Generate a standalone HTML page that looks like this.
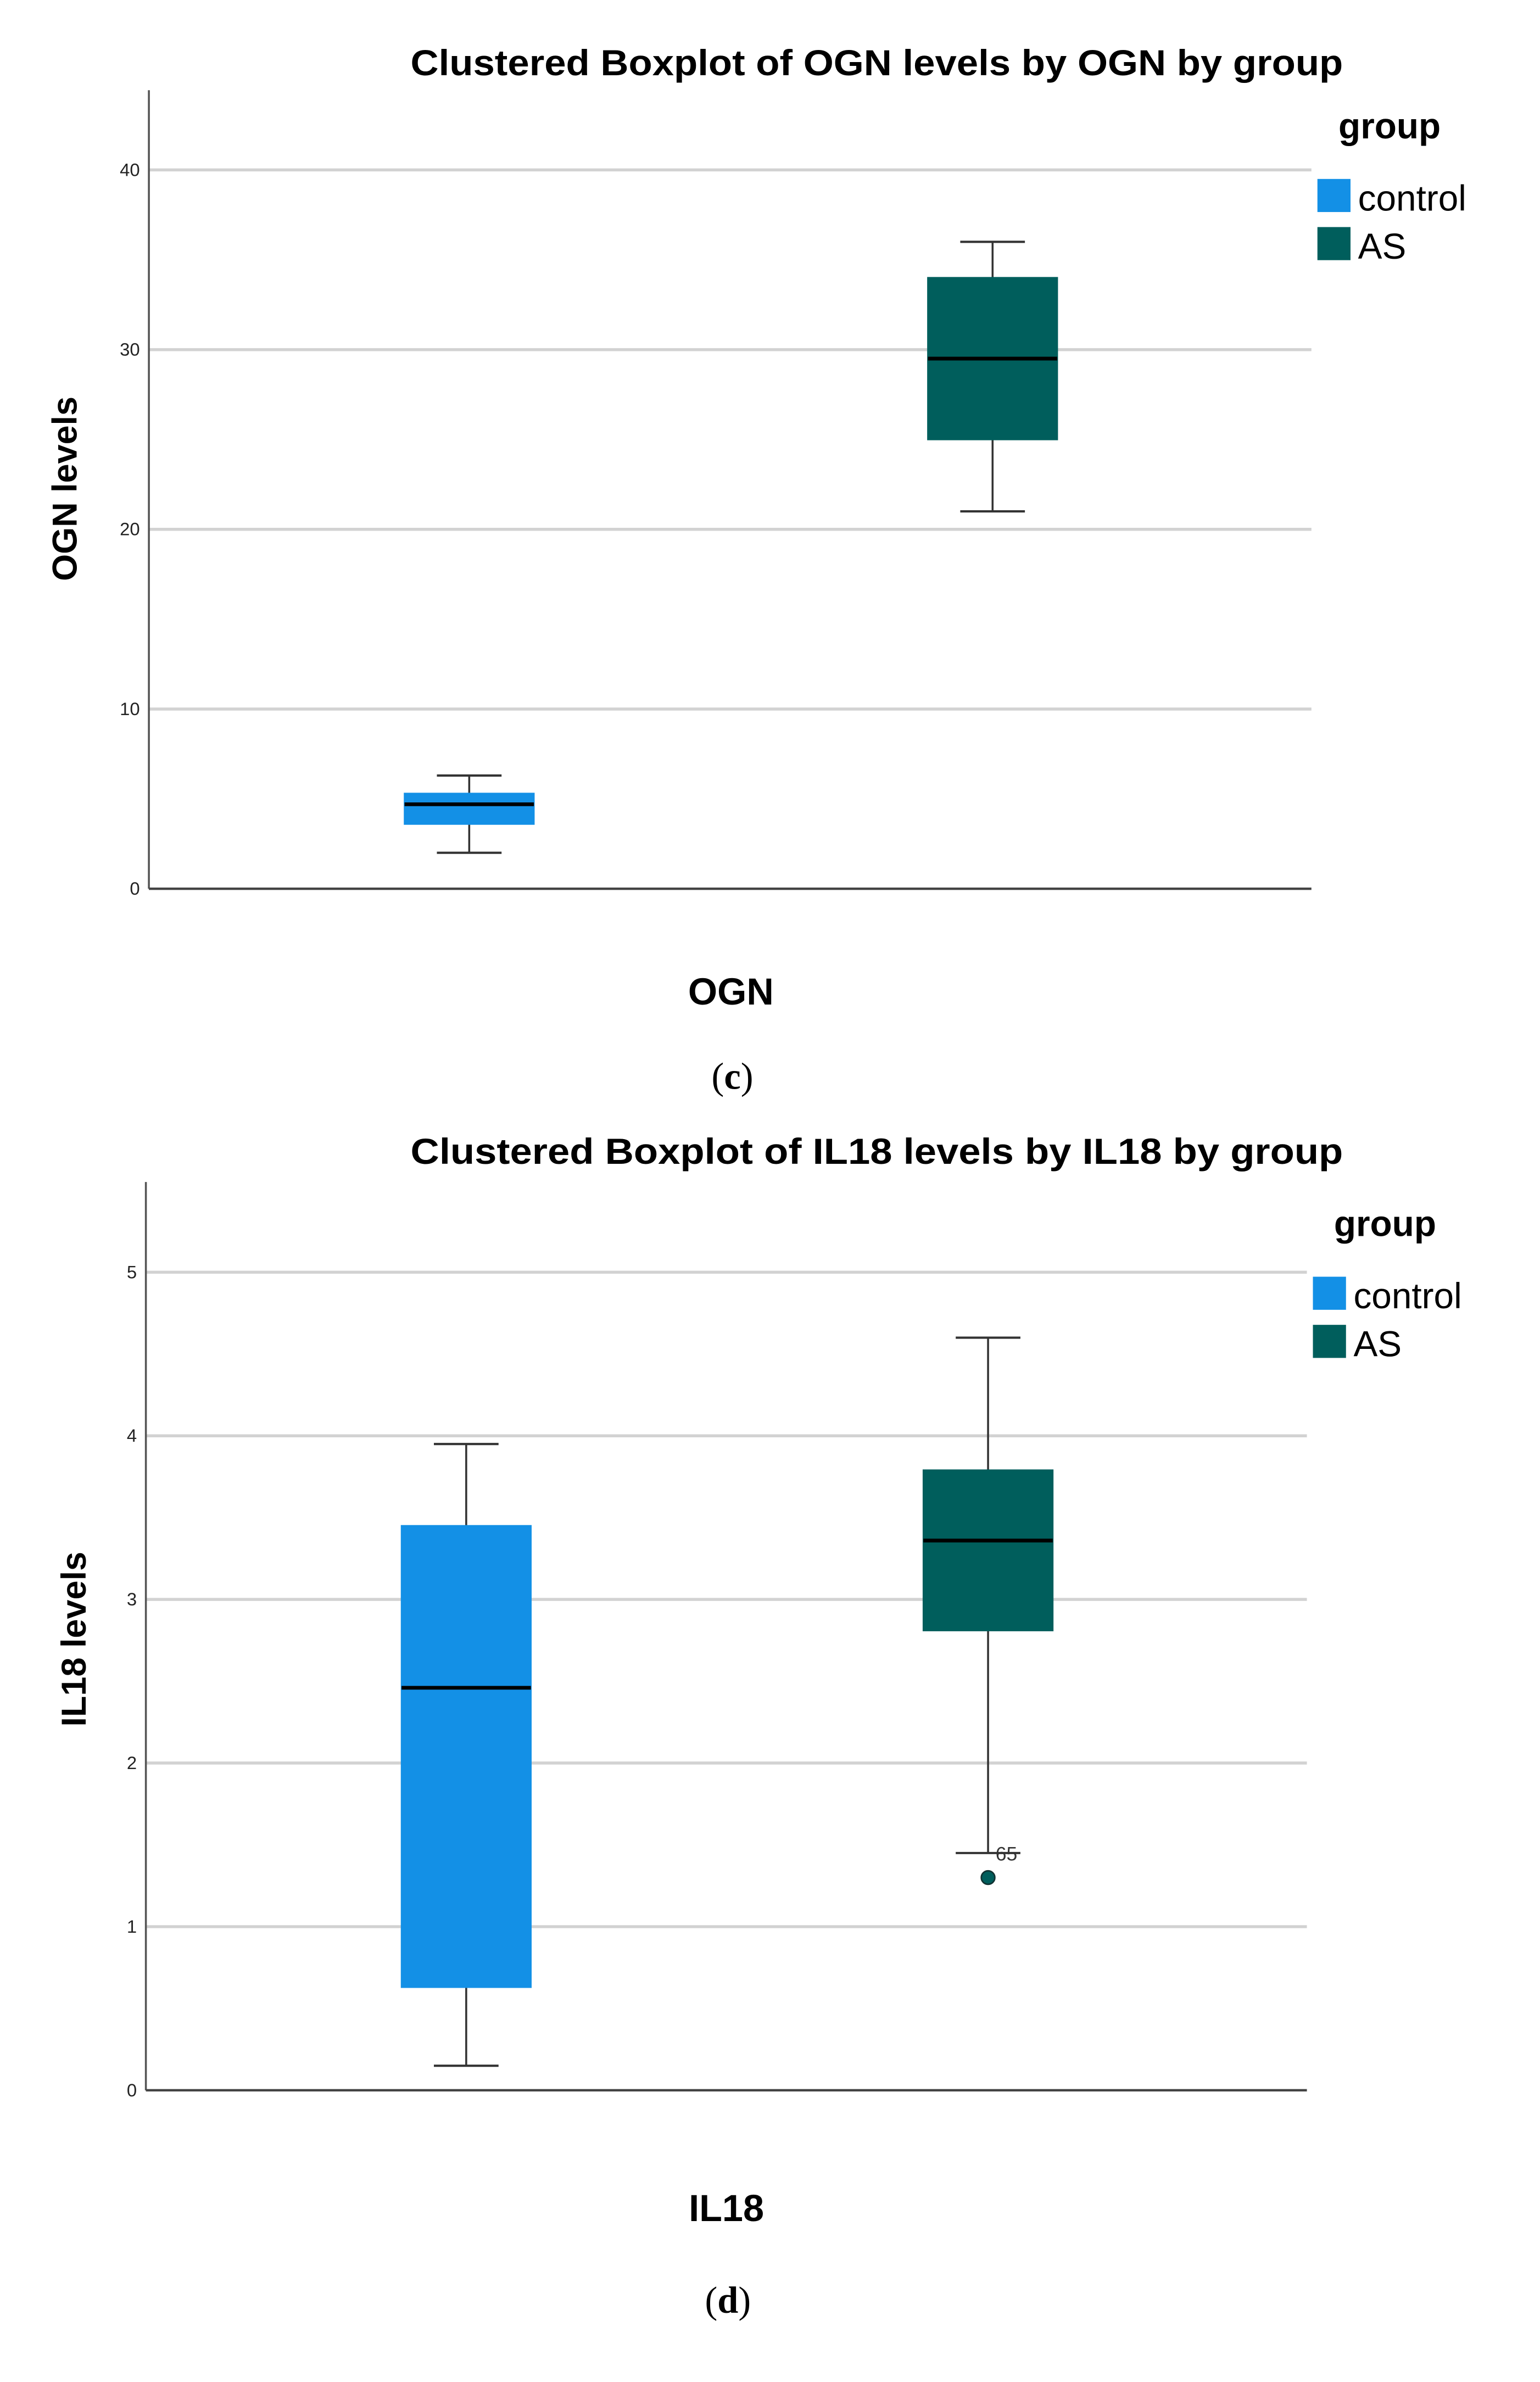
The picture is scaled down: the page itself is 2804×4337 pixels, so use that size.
<!DOCTYPE html>
<html><head><meta charset="utf-8"><style>
html,body{margin:0;padding:0;background:#fff}
svg{display:block}
text{font-family:"Liberation Sans",sans-serif}
</style></head><body>
<svg id="fig" width="2804" height="4337" viewBox="0 0 1024 1584" preserveAspectRatio="none" xmlns="http://www.w3.org/2000/svg">
<rect width="1024" height="1584" fill="#fff"/>
<g id="chartC"></g>
<g id="chartD"></g>
<text x="487" y="724" font-size="25" text-anchor="middle" style="font-family:'Liberation Serif',serif">(<tspan font-weight="bold">c</tspan>)</text>
<text x="484" y="1538" font-size="25" text-anchor="middle" style="font-family:'Liberation Serif',serif">(<tspan font-weight="bold">d</tspan>)</text>
</svg>
<script>
const groups = ["control", "AS"];
const colors = ["#1390e6", "#005e5c"];
// OGN
const ognTicks = [0, 10, 20, 30, 40];
const ognMin = [2.0, 21.0];
const ognQ1 = [3.6, 25.0];
const ognMed = [4.7, 29.5];
const ognQ3 = [5.3, 34.0];
const ognMax = [6.3, 36.0];
const ognOutliers = [];
// IL18
const il18Ticks = [0, 1, 2, 3, 4, 5];
const il18Min = [0.15, 1.45];
const il18Q1 = [0.63, 2.81];
const il18Med = [2.46, 3.36];
const il18Q3 = [3.45, 3.79];
const il18Max = [3.95, 4.6];
const il18Outliers = [{g: 1, v: 1.3, label: "65"}];

const NS = "http://www.w3.org/2000/svg";
function mk(parent, tag, attrs, txt) {
  const e = document.createElementNS(NS, tag);
  for (const k in attrs) e.setAttribute(k, attrs[k]);
  if (txt !== undefined) e.textContent = txt;
  parent.appendChild(e);
  return e;
}

function drawChart(gid, cfg) {
  const g = document.getElementById(gid);
  const y = v => cfg.y0 - (v - cfg.vmin) / (cfg.vmax - cfg.vmin) * (cfg.y0 - cfg.yTop);
  // title
  let t = mk(g, "text", {x: 583, y: cfg.titleY, "font-size": 24, "font-weight": "bold", "text-anchor": "middle", textLength: 620, lengthAdjust: "spacingAndGlyphs"}, cfg.title);
  
  
  // grid + ticks
  cfg.ticks.forEach(v => {
    if (v > 0) {
      const l = mk(g, "line", {x1: cfg.ax, x2: cfg.right, y1: y(v), y2: y(v), stroke: "#d2d2d2", "stroke-width": 2});
      
      
    }
    const tl = mk(g, "text", {x: cfg.ax - 6, y: y(v) + 4, "font-size": 12, "text-anchor": "end", fill: "#222"}, String(v));
    
    
  });
  // axes
  let a = mk(g, "line", {x1: cfg.ax, x2: cfg.ax, y1: cfg.axTop, y2: cfg.y0, stroke: "#555", "stroke-width": 1.3});
  
  
  a = mk(g, "line", {x1: cfg.ax, x2: cfg.right, y1: cfg.y0, y2: cfg.y0, stroke: "#444", "stroke-width": 1.6});
  
  
  // y title
  const yl = mk(g, "text", {x: 0, y: 0, "font-size": 23, "font-weight": "bold", "text-anchor": "middle", transform: `translate(${cfg.ylx},${cfg.yly}) rotate(-90)`}, cfg.ylabel);
  
  
  // x title
  const xl = mk(g, "text", {x: cfg.xlx, y: cfg.xly, "font-size": 25, "font-weight": "bold", "text-anchor": "middle"}, cfg.xlabel);
  
  
  // boxes
  groups.forEach((name, i) => {
    const cx = cfg.cx[i], hw = 43, cw = 21.5;
    const bg = mk(g, "g", {});
    
    
    mk(bg, "line", {x1: cx, x2: cx, y1: y(cfg.max[i]), y2: y(cfg.min[i]), stroke: "#333", "stroke-width": 1.3});
    mk(bg, "line", {x1: cx - cw, x2: cx + cw, y1: y(cfg.max[i]), y2: y(cfg.max[i]), stroke: "#333", "stroke-width": 1.5});
    mk(bg, "line", {x1: cx - cw, x2: cx + cw, y1: y(cfg.min[i]), y2: y(cfg.min[i]), stroke: "#333", "stroke-width": 1.5});
    mk(bg, "rect", {x: cx - hw, y: y(cfg.q3[i]), width: 2 * hw, height: y(cfg.q1[i]) - y(cfg.q3[i]), fill: colors[i], stroke: colors[i], "stroke-width": 1});
    mk(bg, "line", {x1: cx - hw, x2: cx + hw, y1: y(cfg.med[i]), y2: y(cfg.med[i]), stroke: "#000", "stroke-width": 2.5});
  });
  cfg.outliers.forEach(o => {
    const c = mk(g, "circle", {cx: cfg.cx[o.g], cy: y(o.v), r: 4.5, fill: colors[o.g], stroke: "#133", "stroke-width": 1});
    
    
    const ol = mk(g, "text", {x: cfg.cx[o.g] + 5, y: y(cfg.min[o.g]) + 5, "font-size": 13, fill: "#333"}, o.label);
    
    
  });
  // legend
  const lg = mk(g, "g", {});
  
  
  mk(lg, "text", {x: cfg.legX + 14, y: cfg.legY, "font-size": 24, "font-weight": "bold"}, "group");
  groups.forEach((name, i) => {
    const ly = cfg.legY + 27 + i * 32;
    const e = mk(lg, "g", {});
    
    
    mk(e, "rect", {x: cfg.legX, y: ly, width: 22, height: 22, fill: colors[i]});
    mk(e, "text", {x: cfg.legX + 27, y: ly + 21, "font-size": 24}, name);
  });
}

drawChart("chartC", {title: "Clustered Boxplot of OGN levels by OGN by group", titleY: 50,
  ax: 99, right: 872, axTop: 60, y0: 591, yTop: 113, vmin: 0, vmax: 40, ticks: ognTicks,
  ylabel: "OGN levels", ylx: 51, yly: 325, xlabel: "OGN", xlx: 486, xly: 668,
  cx: [312, 660], min: ognMin, q1: ognQ1, med: ognMed, q3: ognQ3, max: ognMax, outliers: ognOutliers,
  legX: 876, legY: 92});
drawChart("chartD", {title: "Clustered Boxplot of IL18 levels by IL18 by group", titleY: 774,
  ax: 97, right: 869, axTop: 786, y0: 1390, yTop: 846, vmin: 0, vmax: 5, ticks: il18Ticks,
  ylabel: "IL18 levels", ylx: 57, yly: 1090, xlabel: "IL18", xlx: 483, xly: 1477,
  cx: [310, 657], min: il18Min, q1: il18Q1, med: il18Med, q3: il18Q3, max: il18Max, outliers: il18Outliers,
  legX: 873, legY: 822});
</script>
</body></html>
